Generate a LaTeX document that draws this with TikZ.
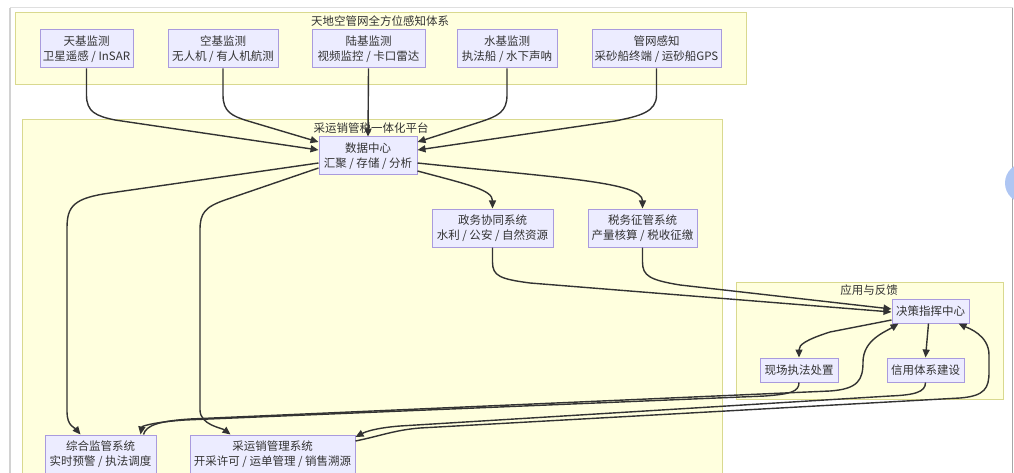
\documentclass[tikz,border=0pt]{standalone}
\usepackage{fontspec}
\setmainfont{Noto Sans CJK SC}
\usetikzlibrary{arrows.meta,calc}
\definecolor{nodefill}{HTML}{ECECFF}
\definecolor{nodeborder}{HTML}{A99BDD}
\definecolor{clfill}{HTML}{FFFFDE}
\definecolor{clborder}{HTML}{D9D98F}
\definecolor{txtcol}{HTML}{333333}
\definecolor{linecol}{HTML}{333333}
\definecolor{uiblue}{HTML}{AFC6F3}
\begin{document}
\begin{tikzpicture}[x=1pt,y=-1pt,
  box/.style={draw=nodeborder, fill=nodefill, line width=1pt, text=txtcol, align=center, inner sep=0pt,
    minimum height=38pt, font=\fontsize{11.5}{15}\selectfont},
  smallbox/.style={box, minimum height=24pt},
  cluster/.style={draw=clborder, fill=clfill, line width=1pt},
  cllabel/.style={text=txtcol, font=\fontsize{11.5}{14}\selectfont, inner sep=0pt},
  flow/.style={draw=linecol, line width=1.4pt, -{Triangle[length=8pt,width=7pt]}}
]
\useasboundingbox (0,0) rectangle (1014,473);
\begin{scope}
\clip (0,0) rectangle (1014,473);
% frame artefacts
\draw[gray!25, line width=1pt] (10,8) -- (1013,8);
\draw[gray!35, line width=1.5pt] (10,8) -- (10,473);
\draw[gray!70, line width=1pt] (1012.5,8) -- (1012.5,473);
\fill[uiblue] (1025,183) circle (20);

% clusters
\draw[cluster] (15,13) rectangle (746,85);
\node[cllabel] (lt) at (380,21) {天地空管网全方位感知体系};
\draw[cluster] (22,120) rectangle (722,495);
\node[cllabel] (lm) at (371,128) {采运销管税一体化平台};
\draw[cluster] (736,282) rectangle (1003,399);
\node[cllabel] (lr) at (869,290) {应用与反馈};

% nodes
\node[box, minimum width=93pt]  (tj) at (86.5,49) {天基监测\\卫星遥感 / InSAR};
\node[box, minimum width=110pt] (kj) at (223,49) {空基监测\\无人机 / 有人机航测};
\node[box, minimum width=113pt] (lj) at (368.5,49) {陆基监测\\视频监控 / 卡口雷达};
\node[box, minimum width=100pt] (sj) at (507,49) {水基监测\\执法船 / 水下声呐};
\node[box, minimum width=129pt] (gw) at (656.5,49) {管网感知\\采砂船终端 / 运砂船GPS};
\node[box, minimum width=98pt]  (dc) at (368,156) {数据中心\\汇聚 / 存储 / 分析};
\node[box, minimum width=121pt] (zw) at (492.5,228) {政务协同系统\\水利 / 公安 / 自然资源};
\node[box, minimum width=109pt] (sw) at (642.5,228) {税务征管系统\\产量核算 / 税收征缴};
\node[box, minimum width=111pt] (zh) at (100.5,454) {综合监管系统\\实时预警 / 执法调度};
\node[box, minimum width=165pt] (cy) at (272.5,454) {采运销管理系统\\开采许可 / 运单管理 / 销售溯源};
\node[smallbox, minimum width=77pt] (jc) at (930.5,311) {决策指挥中心};
\node[smallbox, minimum width=78pt] (xc) at (799,370) {现场执法处置};
\node[smallbox, minimum width=77pt] (xy) at (925.5,370) {信用体系建设};

% edges: sensing -> data centre
\draw[flow] (tj.south) -- (86.5,95) .. controls (86.5,112) and (96,116) .. (115,120) -- ($(dc.west)+(0,-6)$);
\draw[flow] (kj.south) -- (223,95) .. controls (223,112) and (232,116) .. (248,121) -- ($(dc.west)+(0,-14)$);
\draw[flow] (lj.south) -- (dc.north);
\draw[flow] (sj.south) -- (507,95) .. controls (507,112) and (498,116) .. (480,122) -- ($(dc.east)+(0,-14)$);
\draw[flow] (gw.south) -- (656.5,95) .. controls (656.5,112) and (640,116) .. (615,121) -- ($(dc.east)+(0,-6)$);

% data centre -> systems
\draw[flow] ($(dc.west)+(0,7)$) -- (110,193) .. controls (74,198) and (67,206) .. (67,228) -- (67,412) .. controls (67,426) and (75,428) .. ($(zh.north)+(-20,0)$);
\draw[flow] ($(dc.west)+(0,12)$) -- (225,200) .. controls (205,207) and (200,213) .. (200,230) -- (200,410) .. controls (200,425) and (222,428) .. ($(cy.north)+(-42,0)$);
\draw[flow] ($(dc.east)+(0,15)$) .. controls (470,185) and (492.5,190) .. (zw.north);
\draw[flow] ($(dc.east)+(0,7)$) .. controls (560,178) and (642.5,182) .. (sw.north);

% systems -> decision centre
\draw[flow] (zw.south) -- (492.5,262) .. controls (492.5,276) and (500,279) .. (530,283) -- ($(jc.west)+(0,1)$);
\draw[flow] (sw.south) -- (642.5,262) .. controls (642.5,276) and (650,280) .. (680,285) -- ($(jc.west)+(0,-2)$);

% decision centre -> applications
\draw[flow] ($(jc.west)+(0,9)$) -- (830,332) .. controls (805,340) and (799,345) .. (xc.north);
\draw[flow] ($(jc.south)+(-2,0)$) -- (xy.north);

% feedback
\draw[flow] (xc.south) .. controls (799,392) and (790,394) .. (765,396) -- (185,420) .. controls (155,422) and (142,426) .. ($(zh.north)+(40,0)$);
\draw[flow] ($(zh.north)+(43,0)$) .. controls (146,425) and (160,421) .. (190,419) -- (830,391) .. controls (858,389) and (863,380) .. (863,362) .. controls (863,340) and (885,332) .. ($(jc.south)+(-32,0)$);
\draw[flow] (xy.south) .. controls (925.5,392) and (915,395) .. (890,396) -- (400,426) .. controls (375,428) and (365,432) .. ($(cy.east)+(0,-17)$);
\draw[flow] ($(cy.east)+(0,-13)$) .. controls (380,436) and (395,430) .. (420,428) -- (960,398) .. controls (985,396) and (989,388) .. (989,372) -- (989,355) .. controls (989,335) and (968,328) .. ($(jc.south)+(28,0)$);
\end{scope}
\end{tikzpicture}
\end{document}
